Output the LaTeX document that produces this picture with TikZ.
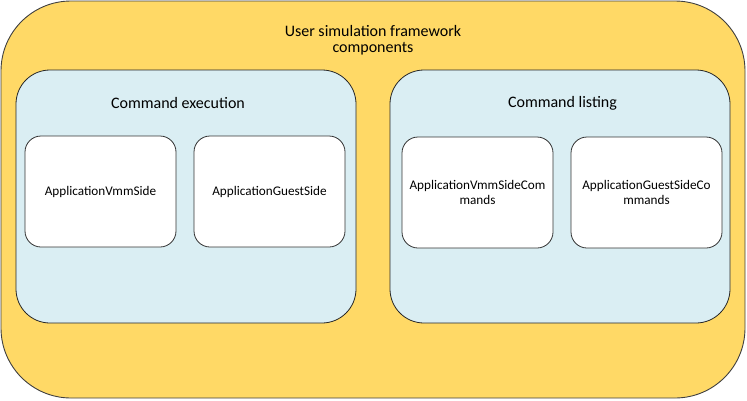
\documentclass[tikz,border=0pt]{standalone}
\usepackage{fontspec}
\setmainfont{Carlito}
\usetikzlibrary{positioning}
\definecolor{frameyellow}{HTML}{FFD966}
\definecolor{panelblue}{HTML}{DAEEF3}
\begin{document}
\begin{tikzpicture}[
        x=1pt, y=-1pt,
        frame/.style={rectangle, draw=black!75, line width=0.9pt, fill=frameyellow, rounded corners=70pt, minimum width=744pt, minimum height=397pt},
        panel/.style={rectangle, draw=black!85, line width=0.8pt, fill=panelblue, rounded corners=34pt, minimum width=340pt, minimum height=253pt},
        comp/.style={rectangle, draw=black!80, line width=0.8pt, fill=white, rounded corners=16pt, minimum width=151pt, minimum height=111pt, align=center, text width=140pt, font=\fontsize{13.2pt}{14.5pt}\selectfont},
        heading/.style={align=center, font=\fontsize{16pt}{16.5pt}\selectfont}
    ]
    \useasboundingbox (0,0) rectangle (747,400);

    % Outer frame
    \node[frame] (framework) at (373,199.5) {};
    \node[heading] (frametitle) at (373,40) {User simulation framework\\components};

    % Command execution panel
    \node[panel] (execution) at (186,196.5) {};
    \node[heading] (exectitle) at (178,103) {Command execution};
    \node[comp] (vmmside) at (100.5,191.5) {ApplicationVmmSide};
    \node[comp] (guestside) at (269.5,191.5) {ApplicationGuestSide};

    % Command listing panel
    \node[panel] (listing) at (560,196.5) {};
    \node[heading] (listtitle) at (562.5,103) {Command listing};
    \node[comp] (vmmcmds) at (477.5,192.5) {ApplicationVmmSideCom\\mands};
    \node[comp] (guestcmds) at (646.5,192.5) {ApplicationGuestSideCo\\mmands};
\end{tikzpicture}
\end{document}
